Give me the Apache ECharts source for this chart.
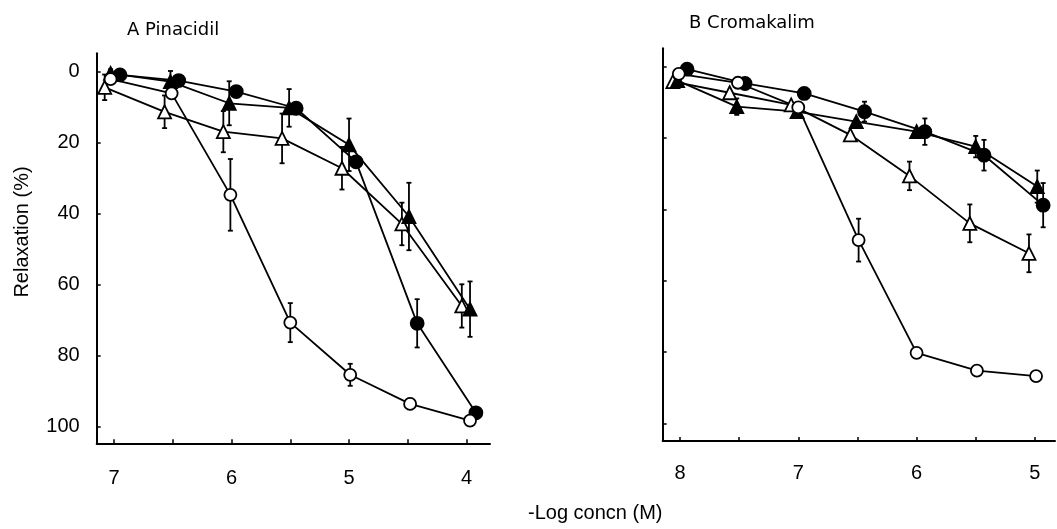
<!DOCTYPE html>
<html>
<head>
<meta charset="utf-8">
<script src="https://cdn.jsdelivr.net/npm/echarts@6/dist/echarts.min.js"></script>
<style>
  html, body { margin: 0; padding: 0; background: #fff; }
  #main { width: 1057px; height: 529px; }
</style>
</head>
<body>
<div id="main"></div>
<script>
// tick positions / labels (-log concn)
var xTicksA = [4, 4.5, 5, 5.5, 6, 6.5, 7];
var xLabelsA = [4, 5, 6, 7];
var xTicksB = [5, 5.5, 6, 6.5, 7, 7.5, 8];
var xLabelsB = [5, 6, 7, 8];
var yTicks = [0, 20, 40, 60, 80, 100];

// A Pinacidil : [ -log concn, relaxation %, s.e.m. ]
var aOpenCircle = [[7.03, 2.1, 0], [6.51, 6.1, 1], [6.01, 34.7, 10.1], [5.5, 70.7, 5.5], [4.99, 85.4, 3.1], [4.48, 93.6, 1.5], [3.97, 98.3, 0]];
var aFilledCircle = [[6.95, 0.9, 0], [6.45, 2.5, 0], [5.96, 5.6, 0], [5.45, 10.3, 0], [4.94, 25.4, 0], [4.42, 70.9, 6.8], [3.92, 96.1, 0]];
var aOpenTriangle = [[7.08, 4.4, 3.6], [6.57, 11.3, 4.6], [6.07, 16.9, 5.8], [5.57, 18.8, 7], [5.06, 27.2, 6], [4.55, 42.9, 6], [4.04, 66.0, 6.1]];
var aFilledTriangle = [[7.03, 0.5, 1.2], [6.52, 2.8, 3], [6.02, 8.9, 6.2], [5.51, 10.2, 5.3], [5.0, 20.6, 7.4], [4.49, 40.8, 9.5], [3.97, 66.9, 7.8]];

// B Cromakalim
var bOpenCircle = [[8.01, 2.0, 0], [7.51, 4.5, 0], [7.0, 11.4, 0], [6.49, 48.6, 6], [6.0, 80.2, 0], [5.49, 85.2, 0], [4.99, 86.7, 0]];
var bFilledCircle = [[7.94, 0.7, 0], [7.45, 4.7, 0], [6.95, 7.5, 0], [6.44, 12.6, 2.8], [5.93, 18.2, 3.7], [5.43, 24.8, 4.3], [4.93, 38.8, 6.2]];
var bOpenTriangle = [[8.06, 4.2, 0], [7.58, 7.3, 0], [7.06, 10.7, 0], [6.56, 19.1, 0], [6.06, 30.6, 4], [5.55, 43.9, 5.3], [5.05, 52.3, 5.3]];
var bFilledTriangle = [[8.02, 3.9, 0], [7.52, 11.2, 2.3], [7.01, 12.6, 0], [6.51, 15.4, 0], [6.0, 18.2, 0], [5.5, 22.4, 3], [4.98, 33.6, 4.5]];

var chart = echarts.init(document.getElementById('main'));

function pts(rows) {
	return rows.map(function(r) { return [r[0], r[1]]; });
}

function errs(rows) {
	var out = [];
	rows.forEach(function(r) {
		if(r[2] > 0) out.push([r[0], r[1] - r[2], r[1] + r[2]]);
	});
	return out;
}

// 误差线
function renderErr(params, api) {
	var x = api.value(0);
	var lo = api.coord([x, api.value(1)]);
	var hi = api.coord([x, api.value(2)]);
	var w = 2.5;
	var st = { stroke: '#000', lineWidth: 1.8 };
	return {
		type: 'group',
		children: [
			{ type: 'line', shape: { x1: lo[0], y1: lo[1], x2: hi[0], y2: hi[1] }, style: st },
			{ type: 'line', shape: { x1: lo[0] - w, y1: lo[1], x2: lo[0] + w, y2: lo[1] }, style: st },
			{ type: 'line', shape: { x1: hi[0] - w, y1: hi[1], x2: hi[0] + w, y2: hi[1] }, style: st }
		]
	};
}

function lineSeries(rows, idx, symbol, filled, size) {
	return {
		type: 'line',
		xAxisIndex: idx,
		yAxisIndex: idx,
		data: pts(rows),
		symbol: symbol,
		symbolSize: size,
		showAllSymbol: true,
		clip: false,
		animation: false,
		lineStyle: { color: '#000', width: 1.8 },
		itemStyle: { color: filled ? '#000' : '#fff', borderColor: '#000', borderWidth: 1.8 },
		z: 3
	};
}

function errSeries(rows, idx) {
	return {
		type: 'custom',
		xAxisIndex: idx,
		yAxisIndex: idx,
		data: errs(rows),
		encode: { x: 0, y: [1, 2] },
		renderItem: renderErr,
		clip: false,
		animation: false,
		z: 2
	};
}

function xAxisOf(idx, min, max, ticks, labels, margin) {
	return {
		type: 'value',
		gridIndex: idx,
		inverse: true,
		min: min,
		max: max,
		axisLine: { show: true, onZero: false, lineStyle: { color: '#000', width: 2 } },
		axisTick: { show: true, inside: true, length: 4, customValues: ticks, lineStyle: { color: '#000', width: 1.5 } },
		axisLabel: { customValues: labels, margin: margin, color: '#000', fontSize: 20, fontFamily: 'Liberation Sans' },
		splitLine: { show: false }
	};
}

function yAxisOf(idx, min, max, showLabel) {
	return {
		type: 'value',
		gridIndex: idx,
		inverse: true,
		min: min,
		max: max,
		axisLine: { show: true, onZero: false, lineStyle: { color: '#000', width: 2 } },
		axisTick: { show: true, inside: true, length: 4, customValues: yTicks, lineStyle: { color: '#000', width: 1.5 } },
		axisLabel: { show: showLabel, customValues: yTicks, margin: 17, color: '#000', fontSize: 20, fontFamily: 'Liberation Sans' },
		splitLine: { show: false }
	};
}

var option = {
	backgroundColor: '#fff',
	animation: false,
	title: [
		{ text: 'A Pinacidil', left: 127, top: 21, padding: 0, textStyle: { color: '#000', fontSize: 18, fontWeight: 'normal', fontFamily: 'DejaVu Sans' } },
		{ text: 'B Cromakalim', left: 689, top: 14, padding: 0, textStyle: { color: '#000', fontSize: 18, fontWeight: 'normal', fontFamily: 'DejaVu Sans' } },
		{ text: '-Log concn (M)', left: 528, top: 503, padding: 0, textStyle: { color: '#000', fontSize: 20, fontWeight: 'normal', fontFamily: 'Liberation Sans' } }
	],
	graphic: [{
		type: 'text',
		x: 22,
		y: 232,
		rotation: Math.PI / 2,
		style: { text: 'Relaxation (%)', fill: '#000', font: '20px "Liberation Sans"', textAlign: 'center', textVerticalAlign: 'middle' }
	}],
	grid: [
		{ left: 96.7, right: 567, top: 53.3, bottom: 85.7 },
		{ left: 662.7, right: 2, top: 48.3, bottom: 88 }
	],
	xAxis: [
		xAxisOf(0, 3.8, 7.148, xTicksA, xLabelsA, 25),
		xAxisOf(1, 4.83, 8.146, xTicksB, xLabelsB, 22)
	],
	yAxis: [
		yAxisOf(0, -5.18, 104.7, true),
		yAxisOf(1, -5.16, 104.9, false)
	],
	series: [
		errSeries(aOpenCircle, 0),
		errSeries(aFilledCircle, 0),
		errSeries(aOpenTriangle, 0),
		errSeries(aFilledTriangle, 0),
		lineSeries(aOpenTriangle, 0, 'triangle', false, 13),
		lineSeries(aFilledTriangle, 0, 'triangle', true, 13),
		lineSeries(aFilledCircle, 0, 'circle', true, 13),
		lineSeries(aOpenCircle, 0, 'circle', false, 12),
		errSeries(bOpenCircle, 1),
		errSeries(bFilledCircle, 1),
		errSeries(bOpenTriangle, 1),
		errSeries(bFilledTriangle, 1),
		lineSeries(bOpenTriangle, 1, 'triangle', false, 13),
		lineSeries(bFilledTriangle, 1, 'triangle', true, 13),
		lineSeries(bFilledCircle, 1, 'circle', true, 13),
		lineSeries(bOpenCircle, 1, 'circle', false, 12)
	]
};

chart.setOption(option);
</script>
</body>
</html>
